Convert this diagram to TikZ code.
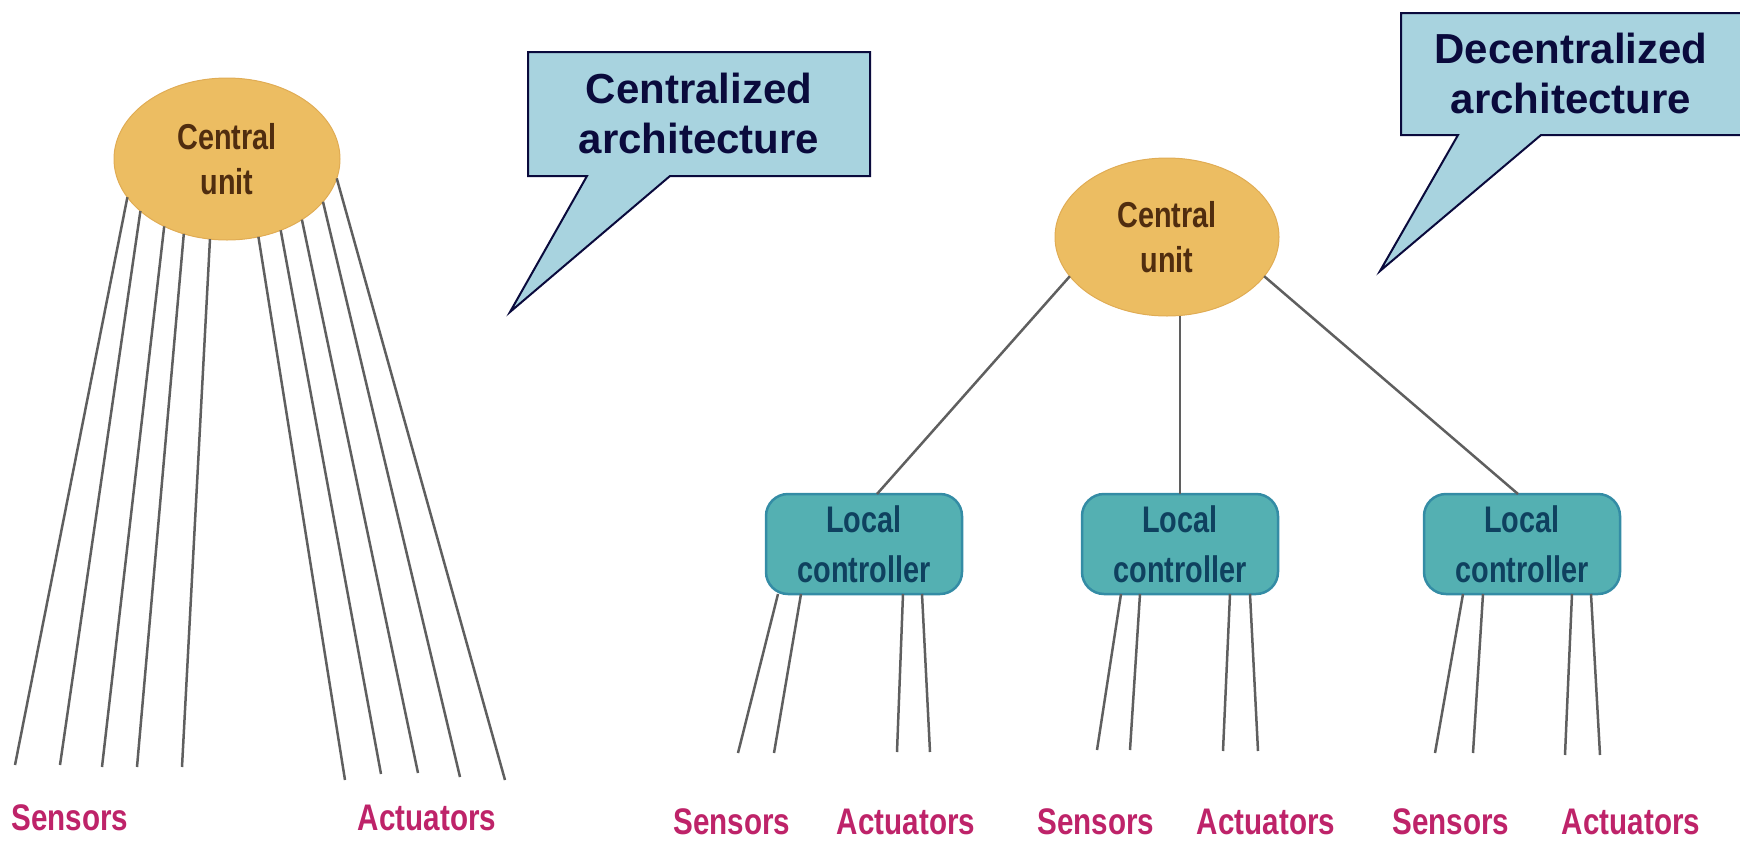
\documentclass[tikz,border=0pt]{standalone}
\usepackage{fontspec}
\setmainfont{Liberation Sans}
\newfontfamily\narrowfont[FakeStretch=0.8]{Liberation Sans}
\newfontfamily\ctrlfont[FakeStretch=0.78]{Liberation Sans}
\usetikzlibrary{shapes.geometric,positioning}
\definecolor{unitgold}{RGB}{236,189,98}
\definecolor{unitedge}{RGB}{224,172,84}
\definecolor{unittext}{RGB}{80,45,15}
\definecolor{ctrlteal}{RGB}{84,176,178}
\definecolor{ctrledge}{RGB}{52,140,165}
\definecolor{ctrltext}{RGB}{15,65,95}
\definecolor{wiregray}{RGB}{95,95,95}
\definecolor{sigred}{RGB}{190,35,105}
\definecolor{calloutblue}{RGB}{168,211,223}
\definecolor{calloutnavy}{RGB}{10,10,60}

\begin{document}
\begin{tikzpicture}[x=1pt,y=-1pt,
	unit/.style={draw=unitedge,ellipse,fill=unitgold,line width=1pt,inner sep=0pt,outer sep=0pt,align=center,text=unittext,font=\narrowfont\bfseries\fontsize{36}{45}\selectfont},
	ctrl/.style={draw=ctrledge,fill=ctrlteal,rounded corners=22pt,line width=2.5pt,minimum width=196pt,minimum height=100pt,inner sep=0pt,outer sep=0pt,align=center,text=ctrltext,font=\ctrlfont\bfseries\fontsize{37}{50}\selectfont},
	wire/.style={draw=wiregray,line width=2.5pt},
	device/.style={anchor=base,text=sigred,font=\narrowfont\bfseries\fontsize{37}{44}\selectfont},
	callout/.style={draw=calloutnavy,fill=calloutblue,line width=2pt,line join=miter},
	note/.style={align=center,text=calloutnavy,font=\bfseries\fontsize{42}{50}\selectfont}]
	\useasboundingbox (0,0) rectangle (1740,841);

	% centralized side
	\coordinate (cL) at (227,159);
	\node[unit,minimum width=226pt,minimum height=162pt] (cuL) at (cL) {Central\\unit};
	\coordinate (sL1) at (15,765);
	\coordinate (sL2) at (60,765);
	\coordinate (sL3) at (102,767);
	\coordinate (sL4) at (137,767);
	\coordinate (sL5) at (182,767);
	\coordinate (aL1) at (345,780);
	\coordinate (aL2) at (381,774);
	\coordinate (aL3) at (418,773);
	\coordinate (aL4) at (460,777);
	\coordinate (aL5) at (505,780);
	\draw[wire] (cuL.201)--(sL1);
	\draw[wire] (cuL.211)--(sL2);
	\draw[wire] (cuL.227)--(sL3);
	\draw[wire] (cuL.240)--(sL4);
	\draw[wire] (cuL.258)--(sL5);
	\draw[wire] (cuL.292)--(aL1);
	\draw[wire] (cuL.307)--(aL2);
	\draw[wire] (cuL.321)--(aL3);
	\draw[wire] (cuL.336)--(aL4);
	\draw[wire] (cuL.350)--(aL5);
	\node[device] (sensL) at (70,830) {Sensors};
	\node[device] (actL) at (427,830) {Actuators};

	% decentralized side
	\coordinate (cR) at (1167,237);
	\node[unit,minimum width=224pt,minimum height=158pt] (cuR) at (cR) {Central\\unit};
	\node[ctrl] (lc1) at (864,544) {Local\\controller};
	\node[ctrl] (lc2) at (1180,544) {Local\\controller};
	\node[ctrl] (lc3) at (1522,544) {Local\\controller};
	\draw[wire] (cuR.202)--([xshift=13pt]lc1.north);
	\draw[wire] (lc2.north |- cuR.south)--(lc2.north);
	\draw[wire] (cuR.338)--([xshift=-4pt]lc3.north);

	\coordinate (s1a) at (738,753);
	\coordinate (s1b) at (774,753);
	\coordinate (a1a) at (897,752);
	\coordinate (a1b) at (930,752);
	\coordinate (s2a) at (1097,750);
	\coordinate (s2b) at (1130,750);
	\coordinate (a2a) at (1223,751);
	\coordinate (a2b) at (1258,751);
	\coordinate (s3a) at (1435,753);
	\coordinate (s3b) at (1473,753);
	\coordinate (a3a) at (1565,755);
	\coordinate (a3b) at (1600,755);
	\draw[wire] ([xshift=-86pt]lc1.south)--(s1a);
	\draw[wire] ([xshift=-63pt]lc1.south)--(s1b);
	\draw[wire] ([xshift=39pt]lc1.south)--(a1a);
	\draw[wire] ([xshift=58pt]lc1.south)--(a1b);
	\draw[wire] ([xshift=-59pt]lc2.south)--(s2a);
	\draw[wire] ([xshift=-40pt]lc2.south)--(s2b);
	\draw[wire] ([xshift=50pt]lc2.south)--(a2a);
	\draw[wire] ([xshift=70pt]lc2.south)--(a2b);
	\draw[wire] ([xshift=-59pt]lc3.south)--(s3a);
	\draw[wire] ([xshift=-39pt]lc3.south)--(s3b);
	\draw[wire] ([xshift=50pt]lc3.south)--(a3a);
	\draw[wire] ([xshift=69pt]lc3.south)--(a3b);
	\node[device] (sens1) at (732,834) {Sensors};
	\node[device] (act1) at (906,834) {Actuators};
	\node[device] (sens2) at (1096,834) {Sensors};
	\node[device] (act2) at (1266,834) {Actuators};
	\node[device] (sens3) at (1451,834) {Sensors};
	\node[device] (act3) at (1631,834) {Actuators};

	% callouts
	\draw[callout] (528,52)--(870,52)--(870,176)--(670,176)--(510,312)--(587,176)--(528,176)--cycle;
	\node[note] (noteC) at (699,113) {Centralized\\architecture};
	\draw[callout] (1401,13)--(1748,13)--(1748,135)--(1541,135)--(1380,271)--(1458,135)--(1401,135)--cycle;
	\node[note] (noteD) at (1571,73) {Decentralized\\architecture};
\end{tikzpicture}
\end{document}
